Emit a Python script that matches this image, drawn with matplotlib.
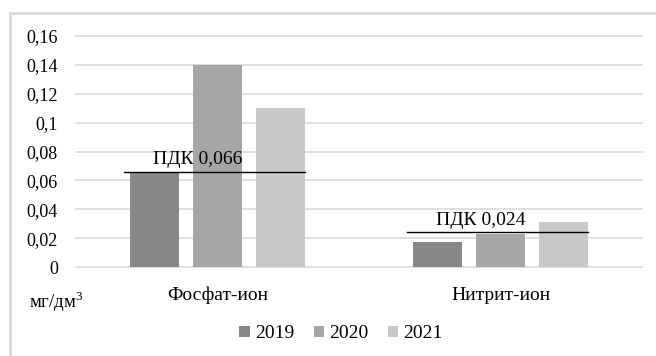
import matplotlib
matplotlib.use("Agg")
import matplotlib.pyplot as plt
from matplotlib.patches import Rectangle, Patch
import numpy as np

categories = ["Фосфат-ион", "Нитрит-ион"]
years = ["2019", "2020", "2021"]
values_2019 = [0.065, 0.017]
values_2020 = [0.14, 0.023]
values_2021 = [0.11, 0.031]
pdk_values = [0.066, 0.024]
pdk_labels = ["ПДК 0,066", "ПДК 0,024"]
yticks = [0, 0.02, 0.04, 0.06, 0.08, 0.1, 0.12, 0.14, 0.16]
ytick_labels = ["0", "0,02", "0,04", "0,06", "0,08", "0,1", "0,12", "0,14", "0,16"]
unit_label = r"мг/дм$^\mathregular{3}$"

colors = ["#878787", "#a6a6a6", "#c8c8c8"]
plt.rcParams['font.family'] = ['Liberation Serif', 'DejaVu Serif']

W, H = 656, 356
fig = plt.figure(figsize=(W/100, H/100), dpi=100)
fig.patch.set_facecolor("white")

# outer frame
fig.add_artist(Rectangle((10/W, -0.05), 1.2, (H-13)/H + 0.05, transform=fig.transFigure,
                         fill=False, edgecolor="#d9d9d9", linewidth=2))

ax = fig.add_axes([76/W, 89/H, 566/W, 231/H])
ax.set_xlim(-0.5, 1.5)
ax.set_ylim(0, 0.16)
for s in ax.spines.values():
    s.set_visible(False)
ax.set_yticks(yticks)
ax.set_yticklabels(ytick_labels, fontsize=13)
ax.tick_params(axis='y', length=0, pad=13)
ax.set_xticks([])
for t in yticks:
    ax.axhline(t, color="#d9d9d9", linewidth=1.2, zorder=0, clip_on=False)

x = np.arange(len(categories))
bw = 0.173
step = 0.2226
series = [values_2019, values_2020, values_2021]
for i, (vals, c) in enumerate(zip(series, colors)):
    ax.bar(x + (i-1)*step, vals, width=bw, color=c, zorder=2)

for xi, p, lab in zip(x, pdk_values, pdk_labels):
    ax.plot([xi-0.33, xi+0.31], [p, p], color="black", linewidth=1, zorder=3)
    ax.text(xi-0.07, p+0.0025, lab, ha="center", va="bottom", fontsize=14, zorder=4)

for xi, cat in zip(x, categories):
    ax.text(xi, -0.0195, cat, ha="center", va="center", fontsize=14)

fig.text(29/W, 1-302/H, unit_label, ha="left", va="center", fontsize=13.5)

handles = [Patch(facecolor=c, edgecolor="none") for c in colors]
fig.legend(handles, years, loc="center", bbox_to_anchor=(341/W, 1-334/H), ncol=3,
           frameon=False, fontsize=14, handlelength=0.55, handleheight=0.55,
           handletextpad=0.25, columnspacing=1.0)

fig.savefig("out.png", dpi=100)
